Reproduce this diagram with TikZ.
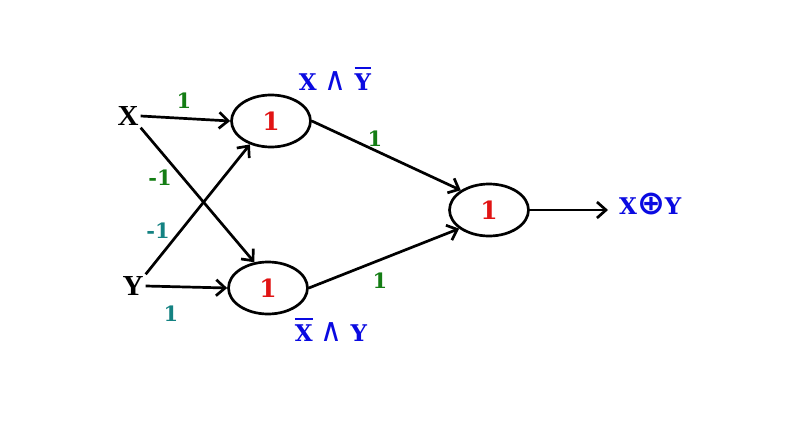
\documentclass[tikz,border=0pt]{standalone}
\usepackage{fontspec}
\setmainfont{DejaVu Serif}
\newfontfamily\symfont{DejaVu Sans}
\newfontfamily\inpfont{Liberation Serif}
\usetikzlibrary{shapes.geometric,arrows.meta}
\definecolor{wgreen}{RGB}{20,125,20}
\definecolor{wteal}{RGB}{20,130,130}
\definecolor{lblue}{RGB}{10,10,225}
\definecolor{bred}{RGB}{225,20,20}
% bar drawn over a letter (logical negation)
\newcommand\negbar[1]{\leavevmode\setbox0\hbox{#1}\rlap{\rule[\dimexpr\ht0+5pt\relax]{\wd0}{2.2pt}}\box0\relax}
% tall logical-and and circled-plus signs
\newcommand\landsym{{\symfont\mdseries\scalebox{1.3}[1.42]{∧}}}
\newcommand\xorsym{{\symfont\bfseries\scalebox{1.45}{⊕}}}
\begin{document}
\begin{tikzpicture}[x=1pt,y=-1pt,
  neuron/.style={draw,ellipse,line width=2.7pt,minimum width=79pt,minimum height=52pt,inner sep=0pt,
    text=bred,font=\bfseries\fontsize{25}{25}\selectfont},
  inp/.style={font=\inpfont\bfseries\fontsize{29}{29}\selectfont,inner sep=2pt},
  wt/.style={font=\bfseries\fontsize{21}{21}\selectfont,inner sep=0pt},
  expr/.style={text=lblue,font=\bfseries\fontsize{23}{23}\selectfont,inner sep=0pt},
  link/.style={line width=2.7pt,-{Straight Barb[length=9pt,width=16pt,line width=2.7pt]}}]
\useasboundingbox (0,0) rectangle (804,447);
\fill[white] (0,0) rectangle (804,447);
% inputs
\node[inp] (x) at (128,116) {X};
\node[inp] (y) at (133,286) {Y};
% neurons
\node[neuron] (h1) at (271,121) {1};
\node[neuron] (h2) at (268,288) {1};
\node[neuron] (out) at (489,210) {1};
\coordinate (end) at (608,210);
% connections
\draw[link] (x.east) -- (h1.west);
\draw[link] (x.south east) -- (h2.118);
\draw[link] (y.north east) -- (h1.228);
\draw[link] (y.east) -- (h2.west);
\draw[link] (h1.east) -- (out.145);
\draw[link] (h2.east) -- (out.212);
\draw[link] (out.east) -- (end);
% weights
\node[wt,text=wgreen] (w1) at (184,101) {1};
\node[wt,text=wgreen] (w2) at (160,178) {-1};
\node[wt,text=wteal] (w3) at (158,231) {-1};
\node[wt,text=wteal] (w4) at (171,314) {1};
\node[wt,text=wgreen] (w5) at (375,139) {1};
\node[wt,text=wgreen] (w6) at (380,281) {1};
% expressions
\node[expr] (e1) at (335,79) {X \landsym\ \negbar{Y}};
\node[expr] (e2) at (331,330) {\negbar{X} \landsym\ Y};
\node[expr,anchor=west] (e3) at (619,204) {X\xorsym Y};
\end{tikzpicture}
\end{document}
